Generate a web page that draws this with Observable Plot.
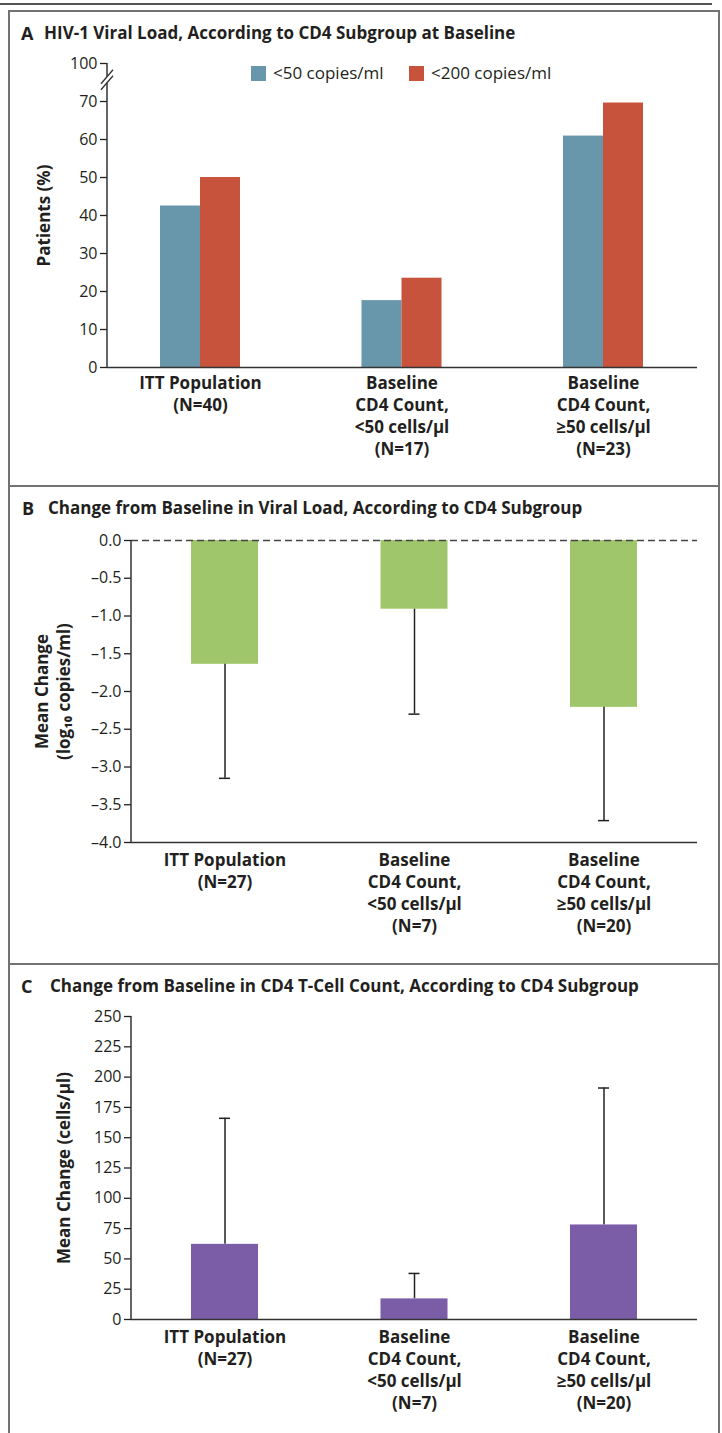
<!DOCTYPE html>
<html><head><meta charset="utf-8">
<script src="https://cdn.jsdelivr.net/npm/d3@7"></script>
<script src="https://cdn.jsdelivr.net/npm/@observablehq/plot@0.6"></script>
<style>
body{margin:0;background:#fff;font-family:"Open Sans",sans-serif;color:#231f20}
#page{position:relative;width:722px;height:1433px;overflow:hidden}
.rule{position:absolute;left:0;top:3px;width:712px;height:2px;background:#555}
.panel{position:absolute;left:8px;width:712px;border:2px solid #727272;box-sizing:border-box}
.title{position:absolute;font-weight:700;font-size:17px;line-height:20px;white-space:nowrap}
.letter{position:absolute;font-weight:700;font-size:18px;line-height:20px}
.plot{position:absolute;left:0}
.legtxt{position:absolute;font-size:17px;line-height:20px;white-space:nowrap}
.sw{position:absolute;width:15px;height:15px}
</style></head>
<body>
<div id="page">
  <div class="rule"></div>
  <div class="panel" style="top:10px;height:477px"></div>
  <div class="panel" style="top:485px;height:480px"></div>
  <div class="panel" style="top:963px;height:520px"></div>

  <div class="letter" style="left:21px;top:23px">A</div>
  <div class="title" style="left:44px;top:23px">HIV-1 Viral Load, According to CD4 Subgroup at Baseline</div>
  <div class="letter" style="left:22px;top:498px">B</div>
  <div class="title" style="left:48px;top:498px">Change from Baseline in Viral Load, According to CD4 Subgroup</div>
  <div class="letter" style="left:21px;top:976px">C</div>
  <div class="title" style="left:50px;top:976px">Change from Baseline in CD4 T-Cell Count, According to CD4 Subgroup</div>

  <div class="sw" style="left:251px;top:66px;background:#6896ab"></div>
  <div class="legtxt" style="left:273px;top:63px">&lt;50 copies/ml</div>
  <div class="sw" style="left:409px;top:66px;background:#c7533c"></div>
  <div class="legtxt" style="left:431px;top:63px">&lt;200 copies/ml</div>

  <div id="pa" class="plot" style="top:40px"></div>
  <div id="pb" class="plot" style="top:500px"></div>
  <div id="pc" class="plot" style="top:995px"></div>
</div>
<script>
// ---------- data ----------
const groupsA = ["ITT Population\n(N=40)", "Baseline\nCD4 Count,\n<50 cells/μl\n(N=17)", "Baseline\nCD4 Count,\n≥50 cells/μl\n(N=23)"];
const below50 = [42.5, 17.6, 60.9];
const below200 = [50.0, 23.5, 69.6];
const yTicksA = [0, 10, 20, 30, 40, 50, 60, 70, 100];

const groupsBC = ["ITT Population\n(N=27)", "Baseline\nCD4 Count,\n<50 cells/μl\n(N=7)", "Baseline\nCD4 Count,\n≥50 cells/μl\n(N=20)"];
const vlMean = [-1.64, -0.91, -2.21];
const vlLow = [-3.15, -2.30, -3.71];
const yTicksB = [0, -0.5, -1.0, -1.5, -2.0, -2.5, -3.0, -3.5, -4.0];

const cd4Mean = [62, 17, 78];
const cd4High = [166, 38, 191];
const yTicksC = [0, 25, 50, 75, 100, 125, 150, 175, 200, 225, 250];

// ---------- helpers ----------
const INK = "#231f20";
const AX = "#333";
const breakPos = v => (v > 70 ? 80 : v); // axis break: 100 drawn one step above 70

function axisLine(v0, v1, brk) {
  return (index, scales, values, dims) => {
    const g = d3.create("svg:g");
    const x = dims.marginLeft;
    const y = scales.y;
    g.append("line").attr("x1", x).attr("x2", x).attr("y1", y(v0)).attr("y2", y(v1))
      .attr("stroke", AX).attr("stroke-width", 1.5);
    if (brk != null) {
      const c = y(brk);
      g.append("rect").attr("x", x - 3).attr("y", c - 3).attr("width", 6).attr("height", 6).attr("fill", "#fff");
      for (const off of [-3, 3]) {
        g.append("line").attr("x1", x - 6).attr("y1", c + off + 7).attr("x2", x + 6).attr("y2", c + off - 7)
          .attr("stroke", AX).attr("stroke-width", 1.3);
      }
    }
    return g.node();
  };
}

const baseStyle = {background: "none", fontFamily: "Open Sans", fontSize: "16px", color: INK, overflow: "visible"};

function xLabels(groups, dy) {
  return Plot.text(groups, {x: d => d, text: d => d, frameAnchor: "bottom", textAnchor: "middle", lineAnchor: "top", dy,
    lineHeight: 1.294, fontWeight: "bold", fontSize: 17, fill: INK});
}
function yLabel(txt, dx) {
  return Plot.text([txt], {text: d => d, frameAnchor: "left", textAnchor: "middle", lineAnchor: "middle", dx, rotate: -90,
    lineHeight: 1.3, fontWeight: "bold", fontSize: 17, fill: INK});
}
function yAxis(ticks, fmt) {
  return Plot.axisY({ticks, tickFormat: fmt, tickSize: 7, tickPadding: 3, label: null, strokeWidth: 1.3, fontSize: 16});
}

// ---------- Panel A ----------
const dA = groupsA.map((g, i) => ({g, lo: below50[i], hi: below200[i]}));
const plotA = Plot.plot({
  width: 722, height: 440, marginTop: 23, marginBottom: 113, marginLeft: 107, marginRight: 25,
  style: baseStyle,
  x: {type: "band", domain: groupsA, range: [160, 643], paddingInner: 0.603, paddingOuter: 0, align: 0.5, round: false, axis: null},
  y: {domain: [0, 80], axis: null},
  marks: [
    Plot.barY(dA, {x: "g", y: "lo", fill: "#6896ab", insetRight: 40}),
    Plot.barY(dA, {x: "g", y: "hi", fill: "#c7533c", insetLeft: 40}),
    Plot.ruleY([0], {stroke: AX, strokeWidth: 1.5}),
    yAxis(yTicksA.map(breakPos), d => String(yTicksA[yTicksA.map(breakPos).indexOf(d)])),
    axisLine(0, 80, 75.6),
    xLabels(groupsA, 6),
    yLabel("Patients (%)", -65)
  ]
});
document.getElementById("pa").append(plotA);

// ---------- Panel B ----------
const dB = groupsBC.map((g, i) => ({g, mean: vlMean[i], low: vlLow[i]}));
const plotB = Plot.plot({
  width: 722, height: 460, marginTop: 40, marginBottom: 118, marginLeft: 131, marginRight: 25,
  style: baseStyle,
  x: {type: "band", domain: groupsBC, range: [191, 637], paddingInner: 0.6464, paddingOuter: 0, align: 0.5, round: false, axis: null},
  y: {domain: [-4, 0], axis: null},
  marks: [
    Plot.barY(dB, {x: "g", y: "mean", fill: "#a0c66b"}),
    Plot.ruleX(dB, {x: "g", y1: "mean", y2: "low", stroke: "#222", strokeWidth: 1.5}),
    Plot.tickY(dB, {x: "g", y: "low", insetLeft: 28, insetRight: 28, stroke: "#222", strokeWidth: 1.5}),
    Plot.ruleY([0], {stroke: "#444", strokeWidth: 1.3, strokeDasharray: "7,4"}),
    Plot.ruleY([-4], {stroke: AX, strokeWidth: 1.5}),
    yAxis(yTicksB, d => (d === 0 ? "0.0" : "–" + Math.abs(d).toFixed(1))),
    axisLine(0, -4),
    xLabels(groupsBC, 8),
    yLabel("Mean Change\n(log₁₀ copies/ml)", -80)
  ]
});
document.getElementById("pb").append(plotB);

// ---------- Panel C ----------
const dC = groupsBC.map((g, i) => ({g, mean: cd4Mean[i], high: cd4High[i]}));
const plotC = Plot.plot({
  width: 722, height: 438, marginTop: 21, marginBottom: 114, marginLeft: 131, marginRight: 25,
  style: baseStyle,
  x: {type: "band", domain: groupsBC, range: [191, 637], paddingInner: 0.6464, paddingOuter: 0, align: 0.5, round: false, axis: null},
  y: {domain: [0, 250], axis: null},
  marks: [
    Plot.ruleX(dC, {x: "g", y1: "mean", y2: "high", stroke: "#222", strokeWidth: 1.5}),
    Plot.tickY(dC, {x: "g", y: "high", insetLeft: 28, insetRight: 28, stroke: "#222", strokeWidth: 1.5}),
    Plot.barY(dC, {x: "g", y: "mean", fill: "#7a5ca7"}),
    Plot.ruleY([0], {stroke: AX, strokeWidth: 1.5}),
    yAxis(yTicksC, d => String(d)),
    axisLine(0, 250),
    xLabels(groupsBC, 8),
    yLabel("Mean Change (cells/μl)", -69)
  ]
});
document.getElementById("pc").append(plotC);
</script>
</body></html>
